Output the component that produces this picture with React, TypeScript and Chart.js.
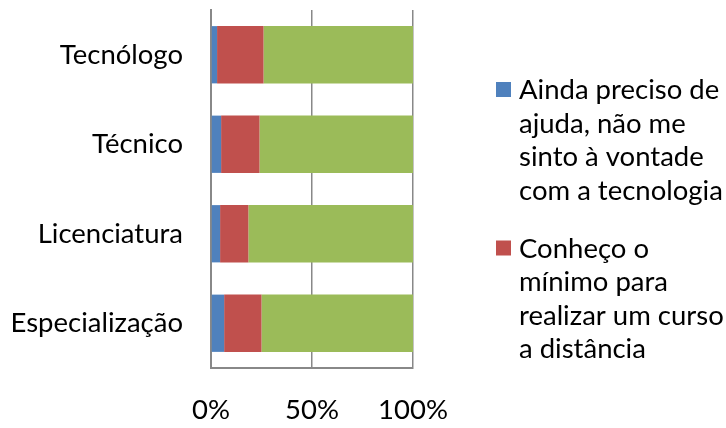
import React, { useEffect, useRef } from "react";
import { Chart, registerables } from "chart.js";

Chart.register(...registerables);

const categories = ["Tecnólogo", "Técnico", "Licenciatura", "Especialização"];
const seriesBlue = [3, 5, 4.5, 6.5];
const seriesRed = [23, 19, 14, 18.5];
const seriesGreen = [74, 76, 81.5, 75];
const legendLinesBlue = ["Ainda preciso de", "ajuda, não me", "sinto à vontade", "com a tecnologia"];
const legendLinesRed = ["Conheço o", "mínimo para", "realizar um curso", "a distância"];
const legendLinesGreen = ["Sinto-me à vontade", "com a tecnologia"];
const xTicks = [0, 50, 100];

const FONT = "Lato, 'Open Sans', sans-serif";
const FONT_SIZE = 27.5;

export default function App() {
  const ref = useRef<HTMLCanvasElement | null>(null);

  useEffect(() => {
    const canvas = ref.current;
    if (!canvas) return;

    const series = [
      { lines: legendLinesBlue, data: seriesBlue, color: "#4F81BD", inLegend: true },
      { lines: legendLinesRed, data: seriesRed, color: "#C0504D", inLegend: true },
      { lines: legendLinesGreen, data: seriesGreen, color: "#9BBB59", inLegend: false },
    ];

    const legendPlugin = {
      id: "wrappedLegend",
      afterDraw(chart: any) {
        const ctx = chart.ctx;
        ctx.save();
        ctx.font = `${FONT_SIZE}px ${FONT}`;
        ctx.fillStyle = "#000";
        ctx.textBaseline = "alphabetic";
        ctx.textAlign = "left";
        const lineH = 33.5;
        const gap = 24.5;
        let baseline = 99;
        series.forEach((s) => {
          if (!s.inLegend) return;
          ctx.fillStyle = s.color;
          ctx.fillRect(496, baseline - 17, 15, 15);
          ctx.fillStyle = "#000";
          s.lines.forEach((ln, i) => {
            ctx.fillText(ln, 519, baseline + i * lineH);
          });
          baseline += s.lines.length * lineH + gap;
        });
        ctx.restore();
      },
    };

    const chart = new Chart(canvas, {
      type: "bar",
      data: {
        labels: categories,
        datasets: series.map((s) => ({
          label: s.lines.join(" "),
          data: s.data,
          backgroundColor: s.color,
          borderWidth: 0,
          barPercentage: 0.64,
          categoryPercentage: 1,
        })),
      },
      options: {
        indexAxis: "y",
        animation: false,
        responsive: false,
        devicePixelRatio: 1,
        layout: { padding: { left: 0, top: 10, right: 313, bottom: 0 } },
        plugins: {
          legend: { display: false },
          tooltip: { enabled: false },
        },
        scales: {
          x: {
            stacked: true,
            min: 0,
            max: 100,
            afterBuildTicks: (scale: any) => {
              scale.ticks = xTicks.map((v) => ({ value: v }));
            },
            afterFit: (scale: any) => {
              scale.height = 60;
              scale.paddingLeft = 0;
              scale.paddingRight = 0;
            },
            grid: {
              display: true,
              color: "#888",
              lineWidth: 1.5,
              drawTicks: false,
            },
            border: { display: true, color: "#888", width: 2 },
            ticks: {
              padding: 26,
              color: "#000",
              font: { family: FONT, size: FONT_SIZE },
              callback: (v: any) => `${v}%`,
            },
          },
          y: {
            stacked: true,
            afterFit: (scale: any) => {
              scale.width = 211;
              scale.paddingTop = 0;
              scale.paddingBottom = 0;
            },
            grid: { display: false, drawTicks: false },
            border: { display: true, color: "#888", width: 2 },
            ticks: {
              padding: 28,
              color: "#000",
              font: { family: FONT, size: FONT_SIZE },
            },
          },
        },
      },
      plugins: [legendPlugin],
    } as any);

    return () => chart.destroy();
  }, []);

  return (
    <div style={{ position: "absolute", left: 0, top: 0, width: 726, height: 428, background: "#fff" }}>
      <canvas ref={ref} width={726} height={428} style={{ width: 726, height: 428, display: "block" }} />
    </div>
  );
}
